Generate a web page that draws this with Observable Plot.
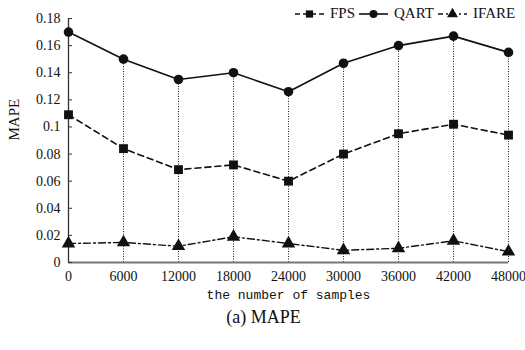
<!DOCTYPE html>
<html>
<head>
<meta charset="utf-8">
<script src="https://cdn.jsdelivr.net/npm/d3@7"></script>
<script src="https://cdn.jsdelivr.net/npm/@observablehq/plot@0.6"></script>
<style>
  html, body { margin: 0; padding: 0; background: #fff; }
  #wrap { position: relative; width: 525px; height: 350px; }
  #chart svg text { font-family: 'Liberation Serif', 'Times New Roman', serif !important; }
  #chart svg text.mono, #chart svg .mono text { font-family: 'Liberation Mono', 'DejaVu Sans Mono', monospace !important; }
  #legend { position: absolute; top: 5px; left: 294px; display: flex; align-items: center;
    font-family: 'Liberation Serif', 'Times New Roman', serif; font-size: 15px; color: #111; white-space: nowrap; }
  #legend svg { display: block; }
  #legend span { margin: 0 3px 0 5px; }
</style>
</head>
<body>
<div id="wrap">
  <div id="chart"></div>
  <div id="legend"></div>
</div>
<script>
const samples = [0, 6000, 12000, 18000, 24000, 30000, 36000, 42000, 48000];
const fps   = [0.109, 0.084, 0.0685, 0.072, 0.060, 0.080, 0.095, 0.102, 0.094];
const qart  = [0.170, 0.150, 0.135, 0.140, 0.126, 0.147, 0.160, 0.167, 0.155];
const ifare = [0.014, 0.0148, 0.012, 0.019, 0.014, 0.009, 0.0105, 0.016, 0.008];
const yTicks = [0, 0.02, 0.04, 0.06, 0.08, 0.1, 0.12, 0.14, 0.16, 0.18];
const seriesNames = ["FPS", "QART", "IFARE"];

const rows = samples.map((s, i) => ({s, fps: fps[i], qart: qart[i], ifare: ifare[i]}));
const serif = "'Liberation Serif', 'Times New Roman', serif";

const chart = Plot.plot({
  width: 525,
  height: 350,
  marginLeft: 68,
  marginRight: 17,
  marginTop: 18,
  marginBottom: 88,
  style: {background: "#fff", color: "#111", fontFamily: serif},
  x: {domain: [0, 48000]},
  y: {domain: [0, 0.18]},
  marks: [
    Plot.ruleX(rows.filter(d => d.s > 0), {x: "s", y1: 0, y2: "qart", stroke: "#222", strokeWidth: 1, strokeDasharray: "1,1.5"}),
    Plot.ruleY([0], {stroke: "#777", strokeWidth: 2}),
    Plot.ruleX([0], {y1: 0, y2: 0.18, stroke: "#333", strokeWidth: 1.3}),
    Plot.axisY({ticks: yTicks, tickSize: -4, tickPadding: 12, tickFormat: d => String(+d.toFixed(2)), fontSize: 14, label: null, stroke: "#333"}),
    Plot.axisX({ticks: samples, tickSize: 0, tickPadding: 9, tickFormat: d => String(d), fontSize: 14, label: null}),
    Plot.text(["MAPE"], {frameAnchor: "left", dx: -54, rotate: -90, fontSize: 15}),
    Plot.text(["the number of samples"], {frameAnchor: "bottom", dy: 36, fontSize: 13, className: "mono"}),
    Plot.text(["(a) MAPE"], {frameAnchor: "bottom", dx: -25, dy: 60, fontSize: 18}),
    Plot.line(rows, {x: "s", y: "qart", stroke: "#111", strokeWidth: 1.6}),
    Plot.line(rows, {x: "s", y: "fps", stroke: "#111", strokeWidth: 1.6, strokeDasharray: "6,4"}),
    Plot.line(rows, {x: "s", y: "ifare", stroke: "#111", strokeWidth: 1.4, strokeDasharray: "7,3,2,3"}),
    Plot.dot(rows, {x: "s", y: "qart", symbol: "circle", r: 4.8, fill: "#111"}),
    Plot.dot(rows, {x: "s", y: "fps", symbol: "square", r: 5, fill: "#111"}),
    Plot.dot(rows, {x: "s", y: "ifare", symbol: "triangle", r: 5, fill: "#111"})
  ]
});
document.getElementById("chart").appendChild(chart);

// legend
const legend = document.getElementById("legend");
const legendStyles = {
  FPS: {dash: "5,3", sym: "square"},
  QART: {dash: null, sym: "circle"},
  IFARE: {dash: "5,3,2,3", sym: "triangle"}
};
seriesNames.forEach(name => {
  const st = legendStyles[name];
  const ns = "http://www.w3.org/2000/svg";
  const svg = document.createElementNS(ns, "svg");
  svg.setAttribute("width", 31); svg.setAttribute("height", 16);
  const ln = document.createElementNS(ns, "line");
  ln.setAttribute("x1", 1); ln.setAttribute("x2", 30); ln.setAttribute("y1", 8); ln.setAttribute("y2", 8);
  ln.setAttribute("stroke", "#111"); ln.setAttribute("stroke-width", 1.6);
  if (st.dash) ln.setAttribute("stroke-dasharray", st.dash);
  svg.appendChild(ln);
  const p = document.createElementNS(ns, "path");
  p.setAttribute("transform", "translate(15.5,8)");
  p.setAttribute("d", d3.symbol(st.sym === "square" ? d3.symbolSquare : st.sym === "circle" ? d3.symbolCircle : d3.symbolTriangle, st.sym === "circle" ? 50 : 52)());
  p.setAttribute("fill", "#111");
  svg.appendChild(p);
  legend.appendChild(svg);
  const sp = document.createElement("span");
  sp.textContent = name;
  legend.appendChild(sp);
});
</script>
</body>
</html>
